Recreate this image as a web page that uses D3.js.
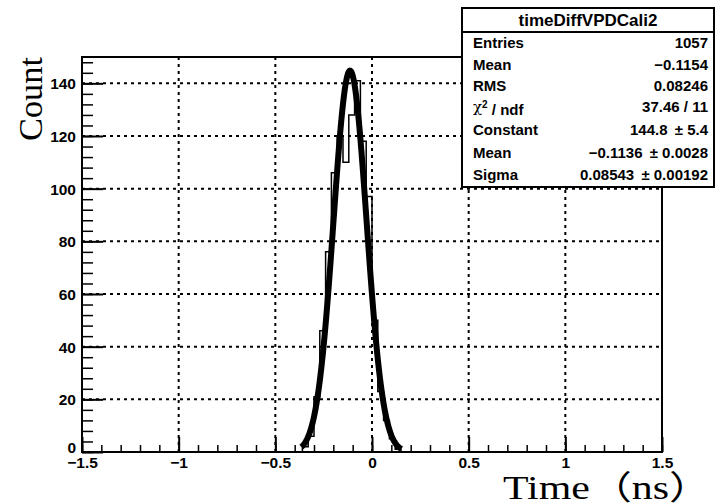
<!DOCTYPE html>
<html>
<head>
<meta charset="utf-8">
<script src="https://cdn.jsdelivr.net/npm/d3@7"></script>
<style>
  body { margin: 0; background: #fff; }
  svg { display: block; }
  .tick text { font-family: "Liberation Sans", Arial, sans-serif; font-weight: bold; font-size: 15.5px; fill: #000; }
</style>
</head>
<body>
<script>
// histogram bins (lower edges, ns) and counts
var binLows = [-0.36, -0.33, -0.30, -0.27, -0.24, -0.21, -0.18, -0.15, -0.12, -0.09, -0.06, -0.03, 0.00, 0.03, 0.06, 0.09, 0.12];
var binCounts = [2, 6, 21, 46, 76, 106, 120, 110, 128, 141, 118, 97, 50, 23, 12, 5, 1];
var binWidth = 0.03;

// gaus fit
var fitConstant = 144.8;
var fitMean = -0.1136;
var fitSigma = 0.08543;
var fitRange = [-0.365, 0.152];

var xTicks = [-1.5, -1, -0.5, 0, 0.5, 1, 1.5];
var yTicks = [0, 20, 40, 60, 80, 100, 120, 140];

var statsTitle = 'timeDiffVPDCali2';
var statLabels = ['Entries', 'Mean', 'RMS', 'chi2', 'Constant', 'Mean', 'Sigma'];
var statValues = ['1057', '\u22120.1154', '0.08246', '37.46 / 11', '144.8 \u2009\u00b1 5.4', '\u22120.1136 \u2009\u00b1 0.0028', '0.08543 \u2009\u00b1 0.00192'];

var W = 717, H = 503;
var pLeft = 82, pRight = 662, pTop = 57, pBottom = 452;

var svg = d3.select('body').append('svg')
	.attr('width', W)
	.attr('height', H);

var x = d3.scaleLinear().domain([-1.5, 1.5]).range([pLeft, pRight]);
var y = d3.scaleLinear().domain([0, 150]).range([pBottom, pTop]);
var fmt = d3.format('');

// dotted grid
var grid = svg.append('g');
grid.selectAll('line.gx')
	.data(xTicks.filter(function(d) { return d > -1.5 && d < 1.5; }))
	.enter().append('line')
	.attr('x1', function(d) { return x(d); })
	.attr('x2', function(d) { return x(d); })
	.attr('y1', pBottom)
	.attr('y2', pTop)
	.attr('stroke', '#000')
	.attr('stroke-width', 2)
	.attr('stroke-dasharray', '3,4');
grid.selectAll('line.gy')
	.data(yTicks.filter(function(d) { return d > 0; }))
	.enter().append('line')
	.attr('x1', pLeft)
	.attr('x2', pRight)
	.attr('y1', function(d) { return y(d); })
	.attr('y2', function(d) { return y(d); })
	.attr('stroke', '#000')
	.attr('stroke-width', 2)
	.attr('stroke-dasharray', '3,4');

// histogram outline
var pts = [[binLows[0], 0]];
binLows.forEach(function(b, i) {
	pts.push([b, binCounts[i]]);
	pts.push([b + binWidth, binCounts[i]]);
});
pts.push([binLows[binLows.length - 1] + binWidth, 0]);
svg.append('path')
	.attr('d', d3.line().x(function(d) { return x(d[0]); }).y(function(d) { return y(d[1]); })(pts))
	.attr('fill', 'none')
	.attr('stroke', '#000')
	.attr('stroke-width', 1.5);

// fit curve
var gaus = function(t) {
	var z = (t - fitMean) / fitSigma;
	return fitConstant * Math.exp(-0.5 * z * z);
};
var curve = d3.range(0, 201).map(function(i) {
	var t = fitRange[0] + (fitRange[1] - fitRange[0]) * i / 200;
	return [t, gaus(t)];
});
svg.append('path')
	.attr('d', d3.line().x(function(d) { return x(d[0]); }).y(function(d) { return y(d[1]); })(curve))
	.attr('fill', 'none')
	.attr('stroke', '#000')
	.attr('stroke-width', 6);

// axes with inward ticks
var xMinor = d3.range(-1.5, 1.5001, 0.1).map(function(d) { return Math.round(d * 10) / 10; });
svg.append('g')
	.attr('transform', 'translate(0,' + pBottom + ')')
	.call(d3.axisBottom(x).tickValues(xMinor).tickSize(-7).tickFormat(''))
	.call(function(g) { g.select('.domain').remove(); })
	.selectAll('line').attr('stroke-width', 1.5);
var xAxis = svg.append('g')
	.attr('transform', 'translate(0,' + pBottom + ')')
	.call(d3.axisBottom(x).tickValues(xTicks).tickSize(-15).tickPadding(4).tickSizeOuter(0).tickFormat(fmt));
xAxis.select('.domain').remove();
xAxis.selectAll('line').attr('stroke-width', 2);
xAxis.selectAll('text').attr('y', 5).attr('dy', '0.72em');

var yMinor = d3.range(0, 150, 4);
svg.append('g')
	.attr('transform', 'translate(' + pLeft + ',0)')
	.call(d3.axisLeft(y).tickValues(yMinor).tickSize(-11).tickFormat(''))
	.call(function(g) { g.select('.domain').remove(); })
	.selectAll('line').attr('stroke-width', 1.5);
var yAxis = svg.append('g')
	.attr('transform', 'translate(' + pLeft + ',0)')
	.call(d3.axisLeft(y).tickValues(yTicks).tickSize(-21).tickPadding(6).tickSizeOuter(0).tickFormat(fmt));
yAxis.select('.domain').remove();
yAxis.selectAll('line').attr('stroke-width', 2);
yAxis.selectAll('text').attr('dy', '0.35em');
// the "0" label sits a bit higher than the axis line
yAxis.selectAll('text').filter(function(d) { return d === 0; }).attr('dy', '0.05em');

// frame
svg.append('rect')
	.attr('x', pLeft)
	.attr('y', pTop)
	.attr('width', pRight - pLeft)
	.attr('height', pBottom - pTop)
	.attr('fill', 'none')
	.attr('stroke', '#000')
	.attr('stroke-width', 2);

// axis titles
svg.append('text')
	.attr('transform', 'translate(42,99) rotate(-90)')
	.attr('text-anchor', 'middle')
	.attr('font-family', '"Liberation Serif", "Times New Roman", serif')
	.attr('font-size', 34)
	.attr('textLength', 84)
	.attr('lengthAdjust', 'spacingAndGlyphs')
	.text('Count');
svg.append('text')
	.attr('x', 503)
	.attr('y', 499)
	.attr('font-family', '"Liberation Serif", "Noto Sans CJK SC", serif')
	.attr('font-size', 33)
	.attr('textLength', 208)
	.attr('lengthAdjust', 'spacingAndGlyphs')
	.text('Time\uff08ns\uff09');

// stats box
var bx = 462, by = 8, bw = 252, bh = 179;
var stats = svg.append('g')
	.attr('font-family', '"Liberation Sans", Arial, sans-serif')
	.attr('font-weight', 'bold')
	.attr('font-size', 15);
stats.append('rect')
	.attr('x', bx).attr('y', by).attr('width', bw).attr('height', bh)
	.attr('fill', '#fff').attr('stroke', '#000').attr('stroke-width', 2);
stats.append('line')
	.attr('x1', bx).attr('x2', bx + bw).attr('y1', 32).attr('y2', 32)
	.attr('stroke', '#000').attr('stroke-width', 2);
stats.append('text')
	.attr('x', bx + bw / 2).attr('y', 20).attr('dy', '0.35em')
	.attr('text-anchor', 'middle').attr('font-size', 17)
	.text(statsTitle);
var rowY = [43, 65, 86, 107, 130, 153, 175];
statLabels.forEach(function(lab, i) {
	var t = stats.append('text')
		.attr('x', 473).attr('y', rowY[i]).attr('dy', '0.35em');
	if (lab === 'chi2') {
		t.append('tspan').attr('font-weight', 'normal').attr('font-family', '"DejaVu Serif", serif').text('\u03c7');
		t.append('tspan').attr('dy', '-0.45em').attr('font-size', 10).text('2');
		t.append('tspan').attr('dy', '0.45em').text(' / ndf');
	} else {
		t.text(lab);
	}
	stats.append('text')
		.attr('x', 708).attr('y', rowY[i]).attr('dy', '0.35em')
		.attr('text-anchor', 'end')
		.text(statValues[i]);
});
</script>
</body>
</html>
